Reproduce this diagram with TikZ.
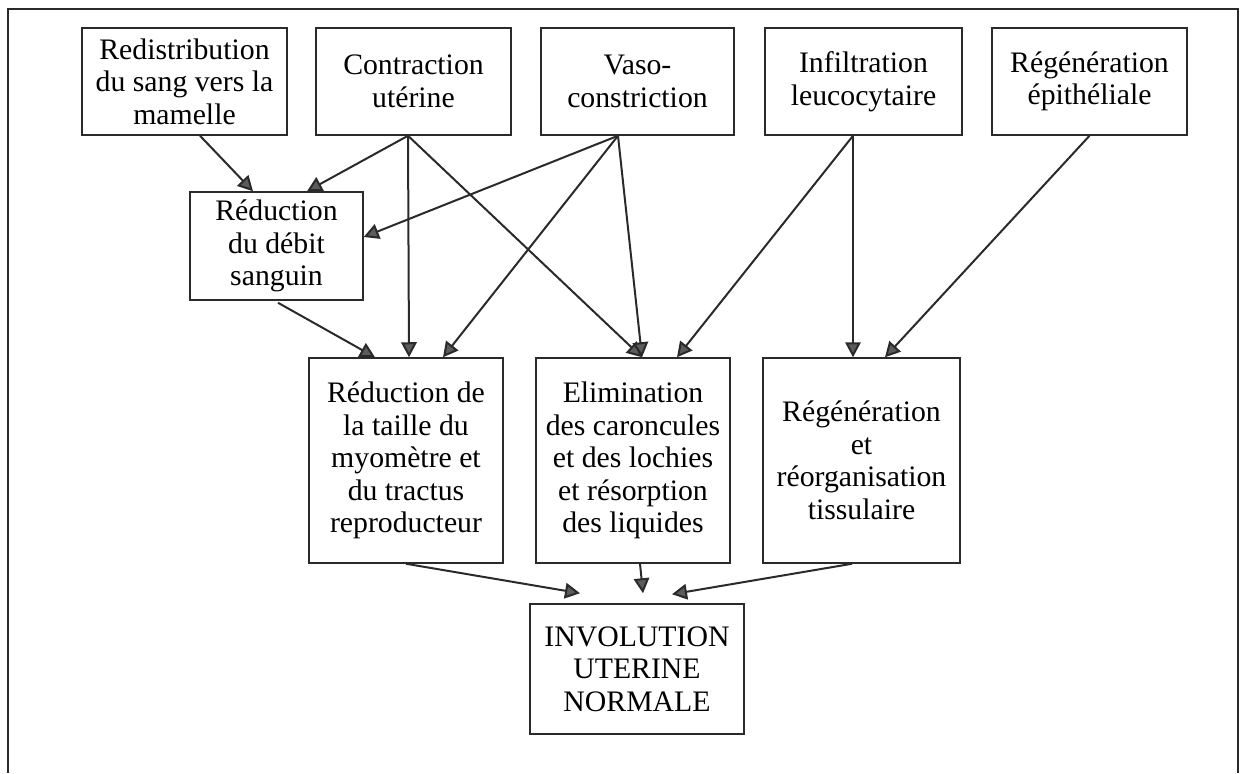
\documentclass[tikz,border=0pt]{standalone}
\usepackage{fontspec}
\setmainfont{Liberation Serif}
\usetikzlibrary{arrows.meta,calc}
\definecolor{mydark}{HTML}{2A2A2A}
\definecolor{mytip}{HTML}{5C5C5C}

\begin{document}
\begin{tikzpicture}[
    x=0.4pt, y=-0.4pt,
    every node/.style={font=\fontsize{11.9}{13}\selectfont},
    box/.style={draw=mydark, line width=0.6pt, align=center, inner sep=0pt},
    cause/.style={box, minimum width=78pt, minimum height=42.8pt},
    effet/.style={box, minimum width=77.6pt, minimum height=82pt},
    arr/.style={draw=mydark, line width=0.8pt, -{Triangle[length=6pt,width=6.2pt,fill=mytip]}},
    frame/.style={draw=mydark, line width=0.5pt}
  ]
  \useasboundingbox (0,0) rectangle (1245,773);
  \draw[frame] (8,773) -- (8,9) -- (1238,9) -- (1238,773);

  % causes
  \node[cause, minimum width=82pt] (redist) at (184.5,81.5) {Redistribution\\du sang vers la\\mamelle};
  \node[cause] (contr) at (413.5,81.5) {Contraction\\utérine};
  \node[cause, minimum width=77.2pt] (vaso) at (637.5,81.5) {Vaso-\\constriction};
  \node[cause, minimum width=78.8pt] (infil) at (863.5,81.5) {Infiltration\\leucocytaire};
  \node[cause] (regepi) at (1089.5,81.5) {Régénération\\épithéliale};
  \node[box, minimum width=69.2pt, minimum height=43.2pt] (debit) at (276.5,246) {Réduction\\du débit\\sanguin};

  % effets
  \node[effet] (reduc) at (406,460.5) {Réduction de\\la taille du\\myomètre et\\du tractus\\reproducteur};
  \node[effet] (elim) at (633,460.5) {Elimination\\des caroncules\\et des lochies\\et résorption\\des liquides};
  \node[effet, minimum width=78.8pt] (regen) at (861.5,460.5) {Régénération\\et\\réorganisation\\tissulaire};
  \node[box, minimum width=85.6pt, minimum height=52pt] (invol) at (637,669) {INVOLUTION\\UTERINE\\NORMALE};

  % departs
  \coordinate (rs) at ($(redist.south)+(15.5,0)$);
  \coordinate (cs) at ($(contr.south)+(-5.5,0)$);
  \coordinate (vs) at ($(vaso.south)+(-19.5,0)$);
  \coordinate (is) at ($(infil.south)+(-10.5,0)$);
  \coordinate (es) at ($(elim.south)+(7,0)$);
  \coordinate (gs) at ($(regen.south)+(-9.5,0)$);

  \draw[arr] (rs) -- ($(debit.north)+(-23.5,0)$);
  \draw[arr] (cs) -- ($(debit.north)+(30.5,0)$);
  \draw[arr] (cs) -- ($(reduc.north)+(3,0)$);
  \draw[arr] (cs) -- ($(elim.north)+(9,0)$);
  \draw[arr] (vs) -- ($(debit.east)+(0,-9)$);
  \draw[arr] (vs) -- ($(reduc.north)+(37,0)$);
  \draw[arr] (vs) -- ($(elim.north)+(9,0)$);
  \draw[arr] (is) -- ($(elim.north)+(44,0)$);
  \draw[arr] (is) -- ($(regen.north)+(-8.5,0)$);
  \draw[arr] (regepi.south) -- ($(regen.north)+(23.5,0)$);
  \draw[arr] ($(debit.south)+(1.5,2)$) -- ($(reduc.north)+(-31,0)$);

  \draw[arr] (reduc.south) -- ($(invol.north)+(-57,-10)$);
  \draw[arr] (es) -- ($(invol.north)+(6,-10)$);
  \draw[arr] (gs) -- ($(invol.north)+(35,-9)$);
\end{tikzpicture}
\end{document}
